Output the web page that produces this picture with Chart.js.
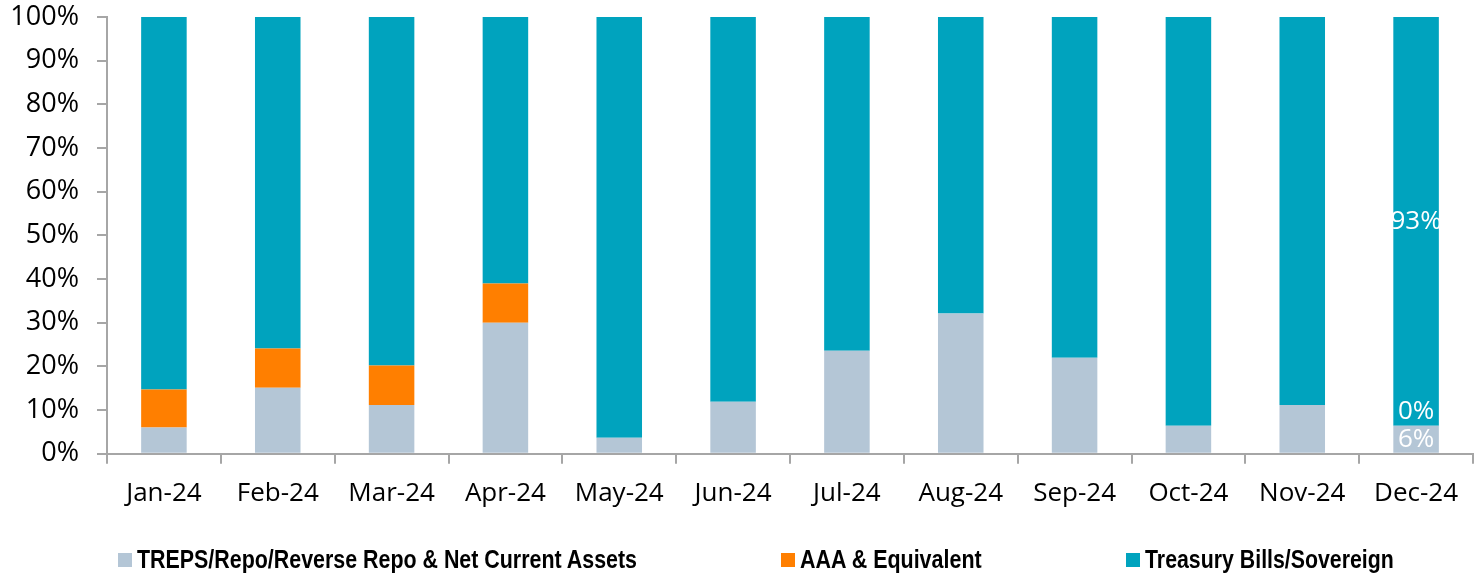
<!DOCTYPE html>
<html>
<head>
<meta charset="utf-8">
<script src="https://cdn.jsdelivr.net/npm/chart.js@4"></script>
<style>
    html, body { margin: 0; padding: 0; background: #fff; }
    #wrap { position: relative; width: 1478px; height: 574px; overflow: hidden; }
    #wrap canvas { position: absolute; left: 0; top: 0; }
    .lg-box { position: absolute; width: 14px; height: 14px; }
    .lg-text {
        position: absolute; white-space: nowrap;
        font-family: "Liberation Sans", Arial, sans-serif; font-weight: bold;
        font-size: 25px; line-height: 26px; color: #000;
        transform-origin: 0 50%;
    }
</style>
</head>
<body>
<div id="wrap"><canvas id="chart_portfolio" width="1478" height="574"></canvas></div>
<script>
const months = ["Jan-24", "Feb-24", "Mar-24", "Apr-24", "May-24", "Jun-24", "Jul-24", "Aug-24", "Sep-24", "Oct-24", "Nov-24", "Dec-24"];
const trepsRepo = [6, 15.1, 11.2, 30, 3.7, 11.9, 23.6, 32.1, 22, 6.4, 11.2, 6.4];
const aaaEquiv = [8.7, 9, 9, 9, 0, 0, 0, 0, 0, 0, 0, 0];
const tBills = [85.3, 75.9, 79.8, 61, 96.3, 88.1, 76.4, 67.9, 78, 93.6, 88.8, 93.6];
const yTicks = [0, 10, 20, 30, 40, 50, 60, 70, 80, 90, 100];

const axisGrey = '#a6a6a6';

// legend placement (the source spreads items out, Excel style)
const legendBoxX = [118, 781, 1126];
const legendTextW = [500, 182, 249];

// white value labels, only on the last bar (as in the source)
const lastBarLabels = {
    id: 'lastBarLabels',
    afterDatasetsDraw(chart) {
        const ctx = chart.ctx;
        const idx = months.length - 1;
        ctx.save();
        ctx.font = '26px "Open Sans"';
        ctx.fillStyle = '#ffffff';
        ctx.textAlign = 'center';
        ctx.textBaseline = 'middle';
        chart.data.datasets.forEach(function (ds, i) {
            const bar = chart.getDatasetMeta(i).data[idx];
            const v = ds.data[idx];
            let y = (bar.y + bar.base) / 2;
            if (v === 0) y -= 14;
            ctx.fillText(Math.floor(v) + '%', bar.x, y);
        });
        ctx.restore();
    }
};

const data = {
    labels: months,
    datasets: [{
        label: 'TREPS/Repo/Reverse Repo & Net Current Assets',
        data: trepsRepo,
        backgroundColor: '#b4c6d6'
    }, {
        label: 'AAA & Equivalent',
        data: aaaEquiv,
        backgroundColor: '#ff7f00'
    }, {
        label: 'Treasury Bills/Sovereign',
        data: tBills,
        backgroundColor: '#00a3be'
    }]
};

const config = {
    type: 'bar',
    data: data,
    plugins: [lastBarLabels],
    options: {
        responsive: false,
        animation: false,
        layout: { padding: { left: 8, right: 5, top: 17, bottom: 51 } },
        datasets: { bar: { categoryPercentage: 1, barPercentage: 0.4 } },
        plugins: {
            tooltip: { enabled: false },
            legend: { display: false }
        },
        scales: {
            x: {
                stacked: true,
                grid: { offset: true, drawOnChartArea: false, tickLength: 10, color: axisGrey, lineWidth: 2 },
                border: { color: axisGrey, width: 2 },
                ticks: { color: '#000', padding: 14, maxRotation: 0, font: { family: '"Open Sans"', size: 26 } }
            },
            y: {
                stacked: true,
                min: 0,
                max: 100,
                afterBuildTicks: function (axis) {
                    axis.ticks = yTicks.map(function (v) { return { value: v }; });
                },
                afterFit: function (axis) {
                    axis.width = 99;
                    axis.paddingTop = 0;
                    axis.paddingBottom = 0;
                },
                grid: { drawOnChartArea: false, tickLength: 10, color: axisGrey, lineWidth: 2 },
                border: { color: axisGrey, width: 2 },
                ticks: {
                    color: '#000',
                    padding: 18,
                    autoSkip: false,
                    font: { family: '"Open Sans"', size: 27 },
                    callback: function (v) { return v + '%'; }
                }
            }
        }
    }
};

const myChart = new Chart(document.getElementById('chart_portfolio'), config);

// html legend under the plot
const wrap = document.getElementById('wrap');
data.datasets.forEach(function (ds, i) {
    const box = document.createElement('div');
    box.className = 'lg-box';
    box.style.left = legendBoxX[i] + 'px';
    box.style.top = '553px';
    box.style.background = ds.backgroundColor;
    wrap.appendChild(box);

    const txt = document.createElement('div');
    txt.className = 'lg-text';
    txt.textContent = ds.label;
    txt.style.left = (legendBoxX[i] + 19) + 'px';
    txt.style.top = '546px';
    wrap.appendChild(txt);
    txt.style.transform = 'scaleX(' + (legendTextW[i] / txt.offsetWidth) + ')';
});
</script>
</body>
</html>
